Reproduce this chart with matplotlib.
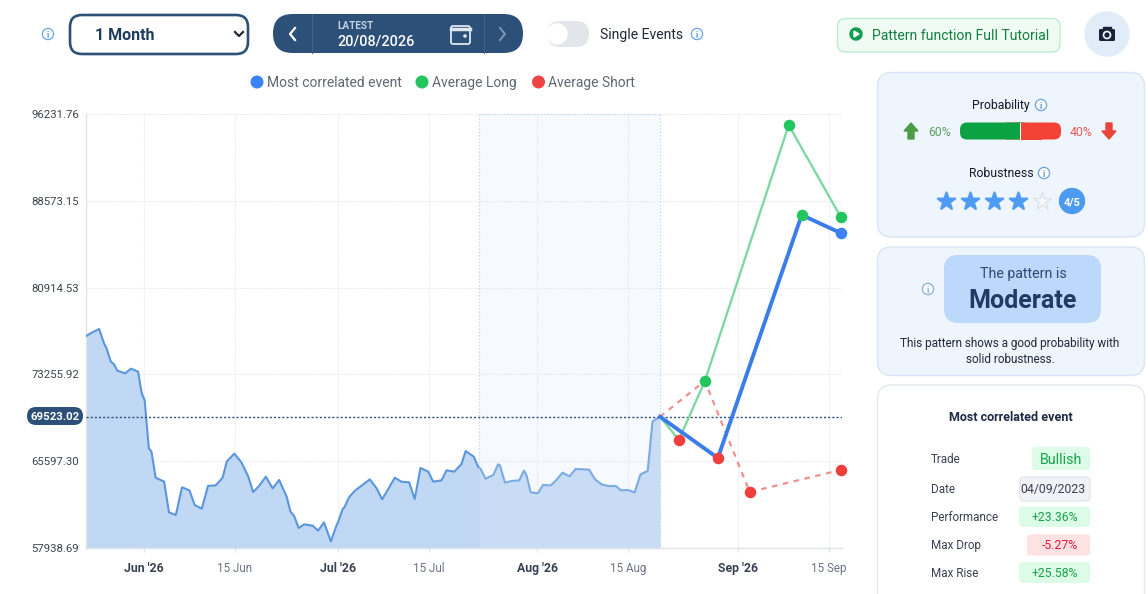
import matplotlib
matplotlib.use("Agg")
import matplotlib.pyplot as plt
from matplotlib.patches import FancyBboxPatch, Circle, Polygon, Rectangle

plt.rcParams["font.family"] = ["Roboto", "DejaVu Sans"]

W, H = 1148, 594

# price history, x in chart days counted from 1 Jun 2026
hist_days = [-8.9, -8.05, -6.9, -6.15, -5.75, -5.1, -4.6, -4.1, -2.9, -2.0, -0.9, -0.35, 0.1, 0.75, 1.15, 1.8,
             3.1, 3.85, 4.9, 5.85, 7.0, 7.8, 8.9, 9.85, 11.05, 12.1, 12.75, 13.9, 15.0, 16.05, 16.8, 17.75,
             18.75, 19.8, 20.8, 21.95, 22.55, 23.1, 23.8, 24.65, 25.95, 26.8, 27.7, 28.75, 29.65, 29.9, 30.55,
             30.9, 31.55, 32.45, 33.75, 34.75, 35.8, 36.65, 37.55, 38.6, 39.6, 40.8, 41.65, 42.55, 43.75, 44.5,
             45.8, 46.55, 47.75, 48.85, 49.5, 50.75, 51.4, 51.8, 52.55, 53.75, 54.5, 54.75, 55.55, 56.55, 57.75,
             58.45, 58.85, 59.5, 60.6, 61.4, 62.6, 63.45, 64.4, 65.5, 66.4, 68.5, 69.4, 70.4, 71.4, 72.6, 73.4,
             74.4, 75.5, 76.4, 77.5, 78.25, 79.4]
hist_price = [76643, 76937, 77261, 75996, 75555, 74379, 74143, 73585, 73349, 73761, 73496, 71585, 70997, 66732,
              66438, 64144, 63791, 61086, 60850, 63291, 63027, 61732, 61409, 63409, 63468, 64144, 65585, 66261,
              65497, 64232, 62880, 63438, 64232, 63203, 63938, 62468, 61144, 60762, 59703, 60026, 59909, 59468,
              60203, 58526, 59968, 60262, 61350, 61586, 62410, 62997, 63556, 63997, 63203, 62233, 63115, 64144,
              63791, 63733, 62262, 64997, 64674, 63791, 63909, 64791, 64674, 65350, 66497, 65997, 65115, 64909,
              64056, 64380, 65321, 65262, 63703, 63850, 63909, 64762, 64380, 62850, 62762, 63497, 63468, 63938,
              64585, 64262, 64909, 64850, 63997, 63556, 63409, 63409, 63027, 63056, 62850, 64438, 64733, 69115,
              69523]

# projections
blue_days = [79.4, 88.3, 101.2, 107.2]
blue_price = [69523, 65880, 87320, 85731]
long_days = [79.4, 82.3, 86.3, 99.2, 107.2]
long_price = [69523, 67468, 72673, 95260, 87143]
short_days = [79.4, 86.3, 93.2, 107.2]
short_price = [69523, 72673, 62880, 64821]

green_pts_x = [86.3, 99.2, 101.2, 107.2]
green_pts_y = [72673, 95260, 87320, 87143]
red_pts_x = [82.3, 88.3, 93.2, 107.2]
red_pts_y = [67468, 65880, 62880, 64821]
blue_pts_x = [107.2]
blue_pts_y = [85731]

y_ticks = [57938.69, 65597.30, 73255.92, 80914.53, 88573.15, 96231.76]
x_ticks = [0, 14, 29.85, 43.85, 60.5, 74.5, 91.4, 105.4]
x_labels = ["Jun '26", "15 Jun", "Jul '26", "15 Jul", "Aug '26", "15 Aug", "Sep '26", "15 Sep"]
last_price = 69523.02

stats_names = ["Trade", "Date", "Performance", "Max Drop", "Max Rise"]
stats_values = ["Bullish", "04/09/2023", "+23.36%", "-5.27%", "+25.58%"]

fig = plt.figure(figsize=(W / 100, H / 100), dpi=100, facecolor="white")

# chart
ax = fig.add_axes([86 / W, 1 - 548 / H, (842 - 86) / W, (548 - 114) / H])
ax.set_xlim(-8.92, 107.4)
ax.set_ylim(57938.69, 96231.76)
for s in ["top", "right"]:
    ax.spines[s].set_visible(False)
for s in ["left", "bottom"]:
    ax.spines[s].set_color("#dfe3e9")
    ax.spines[s].set_linewidth(1)
ax.set_yticks(y_ticks)
ax.set_yticklabels(["%.2f" % v for v in y_ticks], fontsize=8.2, color="#3f444c")
ax.set_xticks(x_ticks)
ax.set_xticklabels(x_labels, fontsize=8.4, color="#6b7280")
for lab in ax.get_xticklabels():
    if "'" in lab.get_text():
        lab.set_fontweight("bold")
        lab.set_fontsize(8.8)
        lab.set_color("#374151")
ax.tick_params(axis="y", length=0, pad=5)
ax.tick_params(axis="x", length=3, color="#dfe3e9", pad=7)
ax.grid(True, color="#e3e7ee", linewidth=0.8, linestyle=(0, (1, 1)))
ax.set_axisbelow(True)

ax.fill_between(hist_days, hist_price, 57938.69, color="#c1d8f4", zorder=2, linewidth=0)
ax.plot(hist_days, hist_price, color="#5a96dc", linewidth=1.5, zorder=3)

# highlighted window
ax.add_patch(Rectangle((51.5, 57938.69), 79.4 - 51.5, 96231.76 - 57938.69, facecolor="#dfeafa", alpha=0.25,
                       edgecolor="none", zorder=4))
ax.add_patch(Rectangle((51.5, 57938.69), 79.4 - 51.5, 96231.76 - 57938.69, fill=False, edgecolor="#b9cfe9",
                       linewidth=0.8, linestyle=(0, (1, 2)), zorder=4))

ax.axhline(last_price, color="#2c5078", linewidth=1, linestyle=(0, (1.5, 1.5)), zorder=5)
ax.plot(long_days, long_price, color="#7fd8a2", linewidth=1.7, zorder=6)
ax.plot(short_days, short_price, color="#ee8f8f", linewidth=1.6, linestyle=(0, (2.5, 2.5)), zorder=6)
ax.plot(blue_days, blue_price, color="#3b7de8", linewidth=2.8, zorder=7)
ax.plot(green_pts_x, green_pts_y, "o", color="#22c55e", markersize=8.3, zorder=8, markeredgewidth=0, clip_on=False)
ax.plot(blue_pts_x, blue_pts_y, "o", color="#3b82f6", markersize=8.3, zorder=8, markeredgewidth=0, clip_on=False)
ax.plot(red_pts_x, red_pts_y, "o", color="#ef3e3e", markersize=8.3, zorder=9, markeredgewidth=0, clip_on=False)

# interface layer in pixel coordinates
ui = fig.add_axes([0, 0, 1, 1], facecolor="none")
ui.set_xlim(0, W)
ui.set_ylim(H, 0)
ui.axis("off")

NAVY = "#2c5078"


def rbox(x0, y0, x1, y1, r, fc, ec="none", lw=1.0):
    ui.add_patch(FancyBboxPatch((x0, y0), x1 - x0, y1 - y0, boxstyle="round,pad=0,rounding_size=%s" % r,
                                facecolor=fc, edgecolor=ec, linewidth=lw))


def label(x, y, s, size, color="#1f2937", weight="normal", ha="center"):
    ui.text(x, y - 0.8, s, fontsize=size, color=color, fontweight=weight, ha=ha, va="center_baseline")


def info(x, y, color="#5b9bdc"):
    ui.add_patch(Circle((x, y), 5.6, facecolor="white", edgecolor=color, linewidth=0.9, alpha=0.9))
    label(x, y + 1.1, "i", 6.5, color, "bold")


# top controls
info(48, 34)
rbox(70, 15, 248, 54, 12, "white", NAVY, 1.9)
label(95, 34.8, "1 Month", 11.5, "#1f3b5c", "bold", "left")
ui.plot([235, 239, 243], [32, 36, 32], color="#1f2937", linewidth=1.6)

rbox(273, 14, 523, 53, 19.5, NAVY)
ui.plot([312, 312], [14, 53], color="#3f6289", linewidth=0.8)
ui.plot([484, 484], [14, 53], color="#3f6289", linewidth=0.8)
ui.plot([295, 290, 295], [28, 34, 40], color="white", linewidth=1.6)
ui.plot([500, 505, 500], [28, 34, 40], color="#7f98b4", linewidth=1.4)
label(337, 25.8, "LATEST", 7.2, "#c3d2e3", "bold", "left")
label(337, 40.8, "20/08/2026", 10.4, "white", 500, "left")
rbox(451, 26, 470, 44, 2, "none", "#dfe7f0", 1.3)
ui.plot([451, 470], [28.5, 28.5], color="#dfe7f0", linewidth=2.5)
ui.add_patch(Circle((465, 36), 1.1, color="#dfe7f0"))

rbox(547, 21, 589, 47, 13, "#e2e5e9")
ui.add_patch(Circle((557, 34), 10, color="white"))
label(600, 34.8, "Single Events", 10.1, "#1f2937", "normal", "left")
info(697, 34)

rbox(837.5, 18.5, 1060, 52, 8, "#effbf3", "#bdeccd", 1)
ui.add_patch(Circle((856, 34), 6, color="#0f9d4e"))
ui.add_patch(Polygon([(854, 31), (854, 37), (859, 34)], closed=True, color="white"))
label(872, 34.8, "Pattern function Full Tutorial", 10.1, "#13803f", "normal", "left")

ui.add_patch(Circle((1107, 34), 22, color="#e1ecf9"))
rbox(1099, 29, 1115, 41, 1.5, "#16233b")
ui.add_patch(Rectangle((1103, 26.5), 8, 3, color="#16233b"))
ui.add_patch(Circle((1107, 35), 3.5, facecolor="#16233b", edgecolor="white", linewidth=1.2))

# legend
for px, text, col in [(257, "Most correlated event", "#3b82f6"), (422, "Average Long", "#22c55e"),
                      (538.5, "Average Short", "#ef4444")]:
    ui.add_patch(Circle((px, 82), 5.8, color=col))
    label(px + 10, 82.5, text, 10, "#5f6773", "normal", "left")

# last price pill
rbox(27, 407, 83, 425, 9, NAVY)
label(55, 416.8, "%.2f" % last_price, 8.2, "white", "bold")

# panel: probability
rbox(877.5, 72.5, 1144.5, 237, 14, "#eff5fd", "#d9e5f2", 1)
label(1001, 105, "Probability", 8.8, "#111827")
info(1041, 105)
ui.add_patch(Polygon([(911, 123), (904, 131), (908, 131), (908, 139), (914, 139), (914, 131), (918, 131)],
                     closed=True, color="#4a9d46"))
label(940, 131.5, "60%", 8.8, "#5d9d62")
rbox(1000, 122.5, 1061, 139.5, 7, "#f44336")
rbox(960, 122.5, 1030, 139.5, 7, "#0ba243")
ui.add_patch(Rectangle((1019.5, 122.5), 22, 17, facecolor="#f44336", linewidth=0))
ui.add_patch(Rectangle((1019.5, 122.5), 1.5, 17, facecolor="white", linewidth=0))
label(1081, 131.5, "40%", 8.8, "#ea5a55")
ui.add_patch(Polygon([(1109, 139), (1102, 131), (1106, 131), (1106, 123), (1112, 123), (1112, 131), (1116, 131)],
                     closed=True, color="#e9433a"))
label(1001, 173, "Robustness", 8.8, "#111827")
info(1044, 173)
for i, px in enumerate([946, 970, 994, 1018, 1042]):
    if i < 4:
        ui.scatter([px], [201], marker="*", s=170, color="#4d9bf5", edgecolor="#4d9bf5", linewidths=1.6)
    else:
        ui.scatter([px], [201], marker="*", s=190, facecolor="#f4f6f9", edgecolor="#dde1e7", linewidths=0.8)
ui.add_patch(Circle((1072, 201), 12.5, color="#4d9bf0"))
label(1072, 201.8, "4/5", 8, "white", "bold")

# panel: verdict
rbox(877.5, 247, 1144.5, 375.5, 14, "#eff5fd", "#d9e5f2", 1)
rbox(944, 255, 1101, 323, 14, "#bcd8fb")
label(1023, 273, "The pattern is", 10.2, "#2c4a6e")
label(1023, 299, "Moderate", 18, "#1f3b63", "bold")
info(928, 289, "#7ba6d8")
label(1010, 343, "This pattern shows a good probability with", 8.5, "#1f2937")
label(1010, 359, "solid robustness.", 8.5, "#1f2937")

# panel: most correlated event
rbox(877.5, 385, 1144.5, 640, 14, "white", "#e3e7ee", 1)
label(1011, 417, "Most correlated event", 9, "#1f2a44", "bold")

row_y = [459, 489, 517, 545, 573]
row_box = [(1032, 447, "#dcfce7"), (1020, 477, "#f1f3f8"), (1019, 507, "#dcfce7"), (1027, 534.5, "#fee2e2"),
           (1019, 562, "#dcfce7")]
row_col = ["#16a34a", "#374151", "#16a34a", "#dc143c", "#16a34a"]
row_h = [23, 24, 20, 21, 21]
row_right = [1082.5, 1085.5, 1078, 1078, 1078]
for name, val, y, (bx, by, bc), tc, bh, tx in zip(stats_names, stats_values, row_y, row_box, row_col, row_h, row_right):
    label(931, y, name, 8.4, "#374151", "normal", "left")
    edge = "#dfe3ea" if val == "04/09/2023" else "none"
    rbox(bx, by, 1090, by + bh, 3.5, bc, edge, 0.8)
    label(tx, y, val, 10.3 if val == "Bullish" else 8.8, tc, "normal", "right")

fig.savefig("out.png", dpi=100)
